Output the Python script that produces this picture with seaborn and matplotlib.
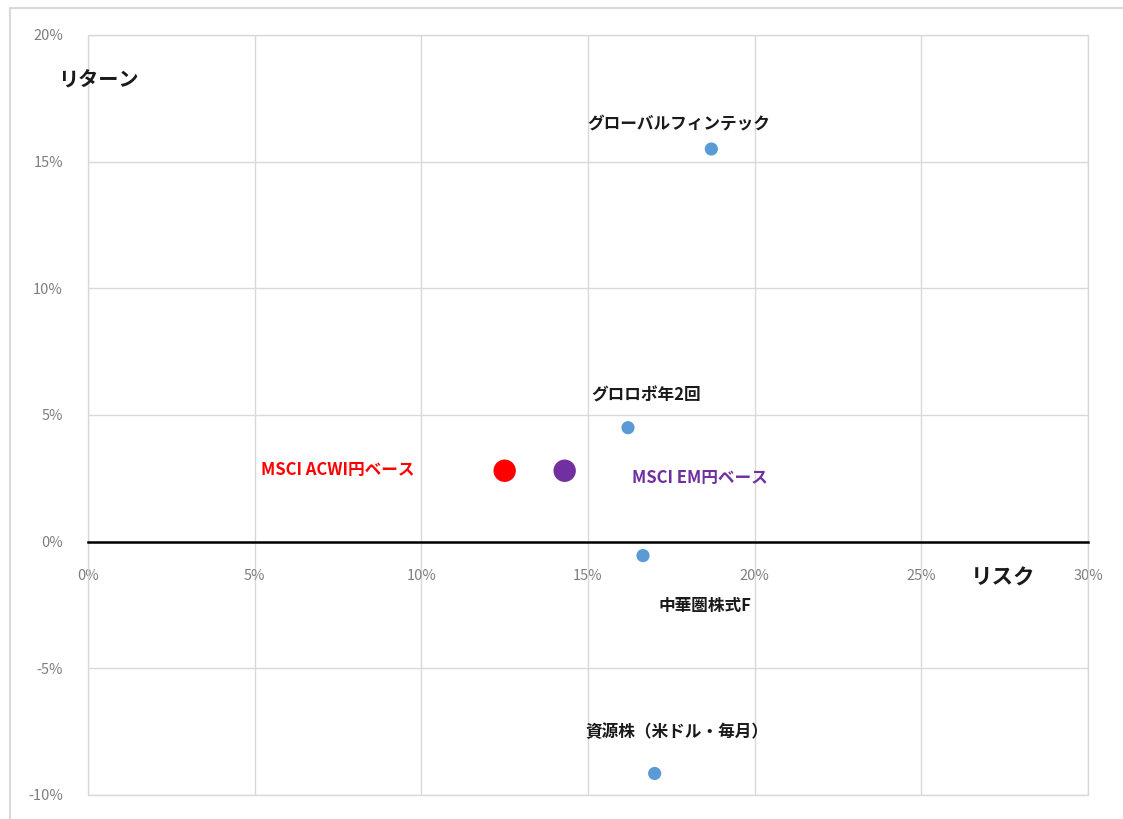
import matplotlib
matplotlib.use("Agg")
import matplotlib.pyplot as plt
import seaborn as sns
import pandas as pd
from matplotlib.ticker import PercentFormatter, MultipleLocator
from matplotlib.lines import Line2D

names = ["グローバルフィンテック", "グロロボ年2回", "中華圏株式F", "資源株（米ドル・毎月）",
         "MSCI ACWI円ベース", "MSCI EM円ベース"]
risk = [18.7, 16.2, 16.65, 17.0, 12.5, 14.3]
ret = [15.5, 4.5, -0.55, -9.15, 2.8, 2.8]
group = ["fund", "fund", "fund", "fund", "acwi", "em"]

df = pd.DataFrame({"name": names, "risk": risk, "ret": ret, "group": group})

palette = {"fund": "#5B9BD5", "acwi": "#FF0000", "em": "#7030A0"}
sizes = {"fund": 90, "acwi": 260, "em": 260}
text_colors = {"fund": "#1a1a1a", "acwi": "#FF0000", "em": "#7030A0"}
offsets = {"グローバルフィンテック": (-33, 25), "グロロボ年2回": (18, 32),
           "中華圏株式F": (62, -50), "資源株（米ドル・毎月）": (22, 41),
           "MSCI ACWI円ベース": (-167, 1), "MSCI EM円ベース": (135, -7)}

sns.set_style("white")
plt.rcParams['font.family'] = ['Noto Sans CJK JP', 'DejaVu Sans']
plt.rcParams['axes.unicode_minus'] = False

fig = plt.figure(figsize=(11.23, 8.19), dpi=100)
ax = fig.add_axes([88/1123, 1-795/819, 1000/1123, 760/819])

sns.scatterplot(data=df, x="risk", y="ret", hue="group", palette=palette,
                size="group", sizes=sizes, legend=False, edgecolor="none", ax=ax,
                zorder=5)

for _, r in df.iterrows():
    dx, dy = offsets[r["name"]]
    ax.annotate(r["name"], (r["risk"], r["ret"]), xytext=(dx, dy),
                textcoords="offset pixels", ha="center", va="center",
                fontsize=12, fontweight="bold", color=text_colors[r["group"]])

ax.set_xlim(0, 30)
ax.set_ylim(-10, 20)
ax.xaxis.set_major_locator(MultipleLocator(5))
ax.yaxis.set_major_locator(MultipleLocator(5))
ax.xaxis.set_major_formatter(PercentFormatter(decimals=0))
ax.yaxis.set_major_formatter(PercentFormatter(decimals=0))
ax.grid(True, color="#d9d9d9", linewidth=1)
ax.set_axisbelow(True)
for s in ["top", "right", "left"]:
    ax.spines[s].set_visible(False)
ax.spines["bottom"].set_position(("data", 0))
ax.spines["bottom"].set_color("#000000")
ax.spines["bottom"].set_linewidth(1.8)
ax.spines["bottom"].set_zorder(3)
# grid edges
ax.axhline(-10, color="#d9d9d9", linewidth=1, clip_on=False)
ax.axhline(20, color="#d9d9d9", linewidth=1, clip_on=False)
ax.axvline(0, color="#d9d9d9", linewidth=1, clip_on=False)
ax.axvline(30, color="#d9d9d9", linewidth=1, clip_on=False)

ax.tick_params(axis="both", length=0, labelsize=10.5, labelcolor="#7f7f7f")
ax.tick_params(axis="x", pad=20)
ax.tick_params(axis="y", pad=18)
ax.set_xlabel("")
ax.set_ylabel("")

fig.text(98/1123, 1-80/819, "リターン", fontsize=14.5, fontweight="bold",
         ha="center", va="center", color="#1a1a1a")
fig.text(1003/1123, 1-578/819, "リスク", fontsize=15.5, fontweight="bold",
         ha="center", va="center", color="#1a1a1a")

# outer frame
fig.add_artist(Line2D([10/1123, 10/1123], [0, 1-8/819], transform=fig.transFigure,
                      color="#d9d9d9", linewidth=1.5))
fig.add_artist(Line2D([10/1123, 1], [1-8/819, 1-8/819], transform=fig.transFigure,
                      color="#d9d9d9", linewidth=1.5))

fig.savefig("out.png", dpi=100)
